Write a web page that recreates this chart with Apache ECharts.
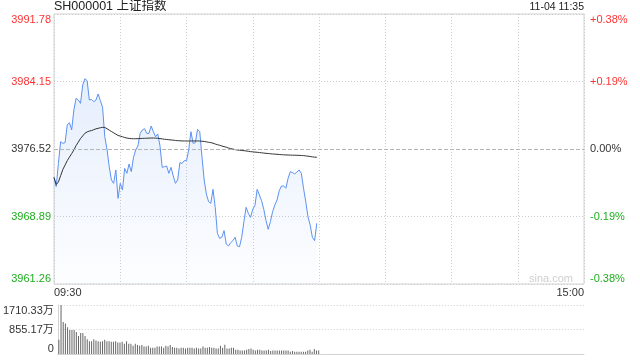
<!DOCTYPE html>
<html>
<head>
<meta charset="utf-8">
<script src="https://cdn.jsdelivr.net/npm/echarts@6/dist/echarts.min.js"></script>
<style>html,body{margin:0;padding:0;background:#fff}#c{width:640px;height:360px}</style>
</head>
<body>
<div id="c"></div>
<script>
// ---- data ----
const preClose = 3976.52;
const priceMin = 3961.26, priceMax = 3991.78, priceStep = 7.63;
const priceTicks = ['3961.26', '3968.89', '3976.52', '3984.15', '3991.78'];
const pctTicks = ['-0.38%', '-0.19%', '0.00%', '+0.19%', '+0.38%'];
const volMax = 1710.33, volStep = 855.165;
const volTicks = ['0', '855.17万', '1710.33万'];
const timeLabels = ['09:30', '15:00'];
const sessions = [['09:30', '11:30'], ['13:01', '15:00']];

const price = [
3973.32,3972.26,3974.90,3977.35,3977.16,3977.24,3979.23,3979.50,3978.67,3980.93,
3982.25,3982.06,3981.68,3983.75,3984.47,3984.24,3982.06,3982.13,3981.87,3982.06,
3982.74,3981.98,3981.23,3977.91,3976.48,3974.52,3973.02,3972.64,3974.15,3970.94,
3972.64,3971.89,3974.33,3973.77,3974.82,3973.96,3975.58,3976.41,3976.86,3978.29,
3978.67,3978.82,3978.29,3978.29,3979.12,3978.48,3977.91,3978.22,3976.86,3974.45,
3974.52,3974.60,3973.77,3974.45,3973.47,3972.64,3973.02,3974.97,3974.90,3975.20,
3975.20,3976.41,3978.48,3977.16,3977.24,3978.74,3978.48,3975.66,3973.02,3971.43,
3970.57,3970.38,3971.96,3969.93,3966.99,3966.42,3966.54,3967.29,3965.78,3965.56,
3965.93,3966.16,3966.54,3965.56,3965.48,3966.54,3968.31,3969.93,3969.25,3968.80,
3969.70,3970.15,3971.96,3971.32,3970.68,3969.70,3968.42,3967.44,3968.31,3969.44,
3970.19,3970.76,3971.81,3972.34,3972.34,3972.08,3973.21,3973.96,3973.85,3973.70,
3973.92,3974.15,3973.77,3972.08,3970.57,3968.87,3967.93,3966.54,3966.16,3968.12
];
const avgPrice = [
3973.30,3972.50,3972.80,3973.50,3974.20,3974.70,3975.20,3975.60,3976.00,3976.40,
3976.90,3977.30,3977.70,3978.00,3978.30,3978.45,3978.55,3978.60,3978.70,3978.80,
3978.86,3978.92,3978.97,3978.95,3978.82,3978.65,3978.50,3978.35,3978.20,3978.05,
3977.98,3977.90,3977.82,3977.76,3977.72,3977.69,3977.68,3977.68,3977.69,3977.70,
3977.72,3977.73,3977.74,3977.75,3977.76,3977.76,3977.75,3977.73,3977.70,3977.66,
3977.62,3977.60,3977.57,3977.54,3977.52,3977.49,3977.46,3977.45,3977.43,3977.43,
3977.42,3977.42,3977.43,3977.43,3977.43,3977.43,3977.42,3977.40,3977.38,3977.33,
3977.28,3977.24,3977.18,3977.08,3977.01,3976.94,3976.86,3976.79,3976.72,3976.63,
3976.56,3976.51,3976.45,3976.41,3976.38,3976.35,3976.33,3976.30,3976.26,3976.22,
3976.20,3976.17,3976.15,3976.12,3976.09,3976.06,3976.03,3976.01,3975.98,3975.96,
3975.94,3975.92,3975.90,3975.88,3975.86,3975.85,3975.84,3975.83,3975.82,3975.82,
3975.81,3975.80,3975.79,3975.77,3975.74,3975.71,3975.67,3975.63,3975.60,3975.58
];
const volume = [
494,1710.33,1113,1067,930,838,838,838,769,631,
735,735,631,517,448,448,517,471,448,425,
448,494,448,448,425,425,448,402,402,425,
356,448,356,356,287,356,310,287,310,264,
264,287,218,218,218,264,264,264,218,287,
264,310,241,218,218,195,218,218,195,218,
218,218,195,218,195,195,264,218,218,241,
218,218,195,195,287,218,321,195,195,218,
218,149,149,126,126,126,149,172,195,149,
126,149,149,126,126,126,149,103,126,126,
126,126,126,126,126,126,80,103,80,80,
80,80,80,80,126,149,80,172,126,126
];

// minute categories of the trading day
function buildTimes() {
  const out = [];
  sessions.forEach(([a, b]) => {
    let [h, m] = a.split(':').map(Number);
    const [eh, em] = b.split(':').map(Number);
    while (h < eh || (h === eh && m <= em)) {
      out.push(String(h).padStart(2, '0') + ':' + String(m).padStart(2, '0'));
      m++; if (m === 60) { m = 0; h++; }
    }
  });
  return out;
}
const times = buildTimes();

const RED = '#f33', GREEN = '#1fae1f', DARK = '#333';
const FONT = "'Liberation Sans', Arial, 'Noto Sans CJK SC', sans-serif";
function tickIdx(v) { return Math.round((v - priceMin) / priceStep); }
function tickColor(v) {
  const i = tickIdx(v);
  return i > 2 ? RED : (i < 2 ? GREEN : DARK);
}

const chart = echarts.init(document.getElementById('c'));
chart.setOption({
  animation: false,
  textStyle: { fontFamily: FONT },
  title: [
    { text: 'SH000001 上证指数', left: 54, top: 0, padding: 0,
      textStyle: { fontSize: 12.5, fontWeight: 'normal', color: '#222', fontFamily: FONT } },
    { text: '11-04 11:35', right: 56, top: 2, padding: 0,
      textStyle: { fontSize: 10.5, fontWeight: 'normal', color: '#222', fontFamily: FONT } }
  ],
  graphic: [
    { type: 'text', right: 67, top: 273,
      style: { text: 'sina.com', fill: '#cfcfcf', font: "11px " + FONT } }
  ],
  grid: [
    { left: 54, right: 56, top: 14, height: 270, show: true, borderColor: '#d2d2d2', borderWidth: 1 },
    { left: 54, right: 56, top: 305, height: 49 }
  ],
  xAxis: [
    { type: 'category', gridIndex: 0, data: times, boundaryGap: false,
      axisLine: { show: false }, axisTick: { show: false },
      axisLabel: {
        interval: (i) => i === 0 || i === times.length - 1,
        formatter: (v, i) => (i === 0 ? timeLabels[0] : timeLabels[1]),
        alignMinLabel: 'left', alignMaxLabel: 'right',
        color: DARK, fontSize: 11, margin: 3, fontFamily: FONT
      },
      splitLine: { show: true, interval: (i) => i % 30 === 0,
        lineStyle: { color: '#ccc', type: [1, 2], width: 1 } }
    },
    { type: 'category', gridIndex: 1, data: times, boundaryGap: true,
      axisLine: { show: true, lineStyle: { color: '#d2d2d2' } }, axisTick: { show: false },
      axisLabel: { show: false }, splitLine: { show: false }
    }
  ],
  yAxis: [
    { type: 'value', gridIndex: 0, min: priceMin, max: priceMax, interval: priceStep, position: 'left',
      axisLine: { show: false }, axisTick: { show: false },
      axisLabel: {
        formatter: (v) => priceTicks[tickIdx(v)] || '',
        color: (v) => tickColor(v),
        fontSize: 11, margin: 3, fontFamily: FONT,
        verticalAlignMaxLabel: 'top', verticalAlignMinLabel: 'bottom'
      },
      splitLine: { show: true, lineStyle: { color: '#ccc', type: [1, 2], width: 1 } }
    },
    { type: 'value', gridIndex: 0, min: priceMin, max: priceMax, interval: priceStep, position: 'right',
      axisLine: { show: false }, axisTick: { show: false },
      axisLabel: {
        formatter: (v) => pctTicks[tickIdx(v)] || '',
        color: (v) => tickColor(v),
        fontSize: 11, margin: 6, fontFamily: FONT,
        verticalAlignMaxLabel: 'top', verticalAlignMinLabel: 'bottom'
      },
      splitLine: { show: false }
    },
    { type: 'value', gridIndex: 2 - 1, min: 0, max: volMax, interval: volStep, position: 'left',
      axisLine: { show: true, lineStyle: { color: '#d2d2d2' } }, axisTick: { show: false },
      axisLabel: {
        formatter: (v) => volTicks[Math.round(v / volStep)] || '',
        color: DARK, fontSize: 11, margin: 4, fontFamily: FONT,
        verticalAlignMaxLabel: 'top', verticalAlignMinLabel: 'bottom'
      },
      splitLine: { show: true, lineStyle: { color: '#ccc', type: [1, 2], width: 1 } }
    }
  ],
  series: [
    { type: 'line', name: 'price', xAxisIndex: 0, yAxisIndex: 0, data: price,
      showSymbol: false, symbol: 'none',
      lineStyle: { color: '#5b91f0', width: 1 },
      areaStyle: { origin: 'start',
        color: new echarts.graphic.LinearGradient(0, 0, 0, 1, [
          { offset: 0, color: 'rgba(90,145,240,0.22)' },
          { offset: 1, color: 'rgba(90,145,240,0.02)' }
        ]) },
      markLine: { silent: true, symbol: 'none', label: { show: false },
        data: [{ yAxis: preClose }],
        lineStyle: { color: '#b5b5b5', type: [4, 2], width: 1 } },
      z: 3
    },
    { type: 'line', name: 'avg', xAxisIndex: 0, yAxisIndex: 0, data: avgPrice,
      showSymbol: false, symbol: 'none', smooth: false,
      lineStyle: { color: '#333', width: 1 }, z: 4
    },
    { type: 'bar', name: 'vol', xAxisIndex: 1, yAxisIndex: 2, data: volume,
      barWidth: 1, itemStyle: { color: '#666' }
    }
  ]
});
</script>
</body>
</html>
